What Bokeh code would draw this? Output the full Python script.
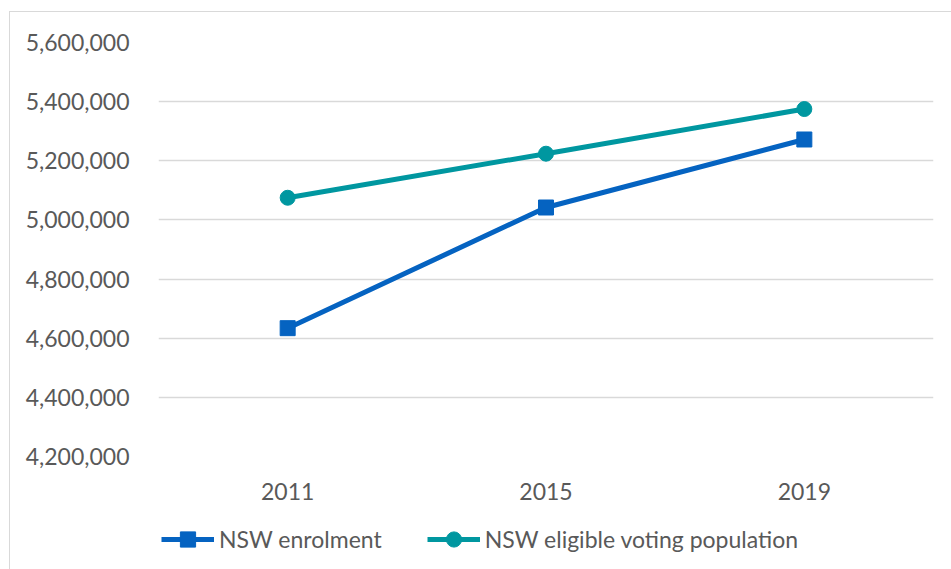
from bokeh.plotting import figure
from bokeh.layouts import column
from bokeh.models import FactorRange, Range1d, Legend, LegendItem, NumeralTickFormatter, FixedTicker
from bokeh.embed import file_html
from bokeh.resources import INLINE

years = ["2011", "2015", "2019"]
enrolment = [4634000, 5042000, 5272000]
eligible = [5075000, 5224000, 5375000]
y_ticks = [4200000, 4400000, 4600000, 4800000, 5000000, 5200000, 5400000, 5600000]
series_names = ["NSW enrolment", "NSW eligible voting population"]

BLUE = "#0563C1"
TEAL = "#0097A0"
TEXT = "#595959"
GRID = "#D9D9D9"
FONT = "Lato"

p = figure(
    width=942, height=499,
    x_range=FactorRange(*years, range_padding=0),
    y_range=Range1d(4200000, 5600000),
    output_backend="svg", toolbar_location=None,
    min_border_left=148, min_border_top=30, min_border_right=19, min_border_bottom=55,
)
p.outline_line_color = None
p.background_fill_color = "white"
p.border_fill_color = "white"

p.xgrid.grid_line_color = None
p.ygrid.grid_line_color = GRID
p.ygrid.grid_line_width = 1.5
p.yaxis.ticker = FixedTicker(ticks=y_ticks)
p.yaxis.formatter = NumeralTickFormatter(format="0,0")

for ax in (p.xaxis[0], p.yaxis[0]):
    ax.axis_line_color = None
    ax.major_tick_line_color = None
    ax.minor_tick_line_color = None
    ax.major_label_text_color = TEXT
    ax.major_label_text_font = FONT
    ax.major_label_text_font_size = "23px"
p.yaxis.major_label_standoff = 23
p.xaxis.major_label_standoff = 20

p.line(years, enrolment, line_color=BLUE, line_width=5)
p.scatter(years, enrolment, marker="square", size=15, fill_color=BLUE, line_color=BLUE)
p.line(years, eligible, line_color=TEAL, line_width=5)
p.scatter(years, eligible, marker="circle", size=15, fill_color=TEAL, line_color=TEAL)

# legend strip below the chart (series lie outside its visible y range)
p2 = figure(
    width=942, height=59,
    x_range=FactorRange(*years, range_padding=0), y_range=Range1d(0, 1),
    x_axis_type=None, y_axis_type=None,
    output_backend="svg", toolbar_location=None,
    min_border=0,
)
p2.outline_line_color = None
p2.grid.grid_line_color = None
p2.border_fill_color = "white"
k1l = p2.line(years, enrolment, line_color=BLUE, line_width=5)
k1s = p2.scatter(years, enrolment, marker="square", size=15, fill_color=BLUE, line_color=BLUE)
k2l = p2.line(years, eligible, line_color=TEAL, line_width=5)
k2s = p2.scatter(years, eligible, marker="circle", size=15, fill_color=TEAL, line_color=TEAL)

legend = Legend(
    items=[LegendItem(label=series_names[0], renderers=[k1l, k1s]),
           LegendItem(label=series_names[1], renderers=[k2l, k2s])],
    location=(3, 12), orientation="horizontal",
    glyph_width=53, glyph_height=38, label_standoff=5, spacing=45,
    padding=0, margin=0, border_line_color=None, background_fill_alpha=0,
    label_text_font=FONT, label_text_font_size="23px", label_text_color=TEXT,
)
p2.add_layout(legend, "center")

layout = column(p, p2, spacing=0)
layout.margin = (11, 0, 0, 9)
layout.styles = {"border-top": "1.5px solid #D9D9D9", "border-left": "1.5px solid #D9D9D9"}

open("out.html", "w").write(file_html(layout, INLINE))
